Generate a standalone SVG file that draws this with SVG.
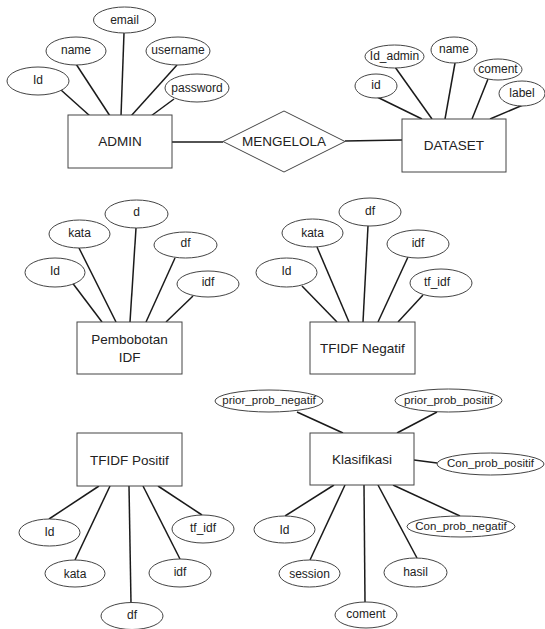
<svg xmlns="http://www.w3.org/2000/svg" width="545" height="629" viewBox="0 0 545 629">
<style>
.bg{fill:#fff}
.attr ellipse{fill:#fff;stroke:#444;stroke-width:1}
.ent rect{fill:#fff;stroke:#444;stroke-width:1}
.rel polygon{fill:#fff;stroke:#444;stroke-width:1}
text{font-family:"Liberation Sans",Arial,sans-serif;fill:#222;text-anchor:middle}
.a{font-size:12px}
.l{font-size:11.5px}
.e{font-size:13.5px}
#connectors line{stroke:#1a1a1a;stroke-width:1.5}
</style>
<rect class="bg" x="0" y="0" width="545" height="629"/>
<g id="connectors">
<!-- ADMIN -->
<line x1="61" y1="90" x2="90" y2="116"/>
<line x1="76" y1="64" x2="110" y2="116"/>
<line x1="124" y1="33" x2="121" y2="116"/>
<line x1="177" y1="65" x2="131" y2="116"/>
<line x1="174" y1="99" x2="151" y2="116"/>
<line x1="172" y1="142" x2="223" y2="142"/>
<line x1="345" y1="141" x2="402" y2="140"/>
<!-- DATASET -->
<line x1="375" y1="96" x2="422" y2="119"/>
<line x1="395" y1="67" x2="432" y2="119"/>
<line x1="455" y1="63" x2="445" y2="119"/>
<line x1="488" y1="79" x2="472" y2="119"/>
<line x1="523" y1="105" x2="490" y2="119"/>
<!-- Pembobotan IDF -->
<line x1="68" y1="277" x2="102" y2="322"/>
<line x1="79" y1="248" x2="116" y2="322"/>
<line x1="136" y1="228" x2="130" y2="322"/>
<line x1="175" y1="258" x2="146" y2="322"/>
<line x1="193" y1="296" x2="166" y2="322"/>
<!-- TFIDF Negatif -->
<line x1="302" y1="286" x2="337" y2="322"/>
<line x1="317" y1="247" x2="349" y2="322"/>
<line x1="368" y1="226" x2="363" y2="322"/>
<line x1="408" y1="257" x2="378" y2="322"/>
<line x1="423" y1="295" x2="398" y2="322"/>
<!-- TFIDF Positif -->
<line x1="49" y1="519" x2="99" y2="486"/>
<line x1="75" y1="560" x2="110" y2="486"/>
<line x1="131" y1="603" x2="129" y2="486"/>
<line x1="180" y1="559" x2="143" y2="486"/>
<line x1="202" y1="515" x2="158" y2="486"/>
<!-- Klasifikasi -->
<line x1="297" y1="412" x2="343" y2="433"/>
<line x1="437" y1="412" x2="397" y2="433"/>
<line x1="414" y1="460" x2="437" y2="463"/>
<line x1="285" y1="516" x2="334" y2="485"/>
<line x1="310" y1="560" x2="345" y2="485"/>
<line x1="365" y1="602" x2="364" y2="485"/>
<line x1="417" y1="558" x2="378" y2="485"/>
<line x1="460" y1="516" x2="393" y2="485"/>
</g>

<g id="admin" class="ent"><rect x="68" y="115" width="104" height="53"/><text class="e" x="120" y="141.5" dy=".35em">ADMIN</text></g>
<g id="admin-id" class="attr"><ellipse cx="38" cy="81" rx="31" ry="14"/><text class="a" x="38" y="80" dy=".35em">Id</text></g>
<g id="admin-name" class="attr"><ellipse cx="76" cy="51" rx="30" ry="14"/><text class="a" x="76" y="50" dy=".35em">name</text></g>
<g id="admin-email" class="attr"><ellipse cx="124.5" cy="20" rx="31" ry="13"/><text class="a" x="124.5" y="20" dy=".35em">email</text></g>
<g id="admin-username" class="attr"><ellipse cx="178" cy="51" rx="32" ry="14"/><text class="a" x="178" y="50" dy=".35em">username</text></g>
<g id="admin-password" class="attr"><ellipse cx="197" cy="88" rx="32" ry="14"/><text class="a" x="197" y="88" dy=".35em">password</text></g>

<g id="mengelola" class="rel"><polygon points="223,141.5 284,111 345,141.5 284,172"/><text class="e" x="284" y="141" dy=".35em">MENGELOLA</text></g>

<g id="dataset" class="ent"><rect x="402" y="119" width="104" height="53"/><text class="e" x="454" y="145.5" dy=".35em">DATASET</text></g>
<g id="dataset-id" class="attr"><ellipse cx="376" cy="86" rx="21" ry="12"/><text class="a" x="376" y="85" dy=".35em">id</text></g>
<g id="dataset-idadmin" class="attr"><ellipse cx="394.5" cy="56.5" rx="29.5" ry="11.5"/><text class="a" x="394.5" y="56" dy=".35em">Id_admin</text></g>
<g id="dataset-name" class="attr"><ellipse cx="454" cy="50" rx="23" ry="13"/><text class="a" x="454" y="49" dy=".35em">name</text></g>
<g id="dataset-coment" class="attr"><ellipse cx="498" cy="69.5" rx="24" ry="10.5"/><text class="a" x="498" y="69" dy=".35em">coment</text></g>
<g id="dataset-label" class="attr"><ellipse cx="522" cy="93.5" rx="23" ry="12.5"/><text class="a" x="522" y="93" dy=".35em">label</text></g>

<g id="pembobotan" class="ent"><rect x="77" y="322" width="105" height="52"/><text class="e" x="129.5" y="339" dy=".35em">Pembobotan</text><text class="e" x="129.5" y="357" dy=".35em">IDF</text></g>
<g id="pb-id" class="attr"><ellipse cx="55" cy="272.5" rx="30" ry="14.5"/><text class="a" x="55" y="271" dy=".35em">Id</text></g>
<g id="pb-kata" class="attr"><ellipse cx="79.5" cy="234" rx="30.5" ry="14"/><text class="a" x="79.5" y="233" dy=".35em">kata</text></g>
<g id="pb-d" class="attr"><ellipse cx="136.5" cy="214" rx="31.5" ry="14"/><text class="a" x="136.5" y="212" dy=".35em">d</text></g>
<g id="pb-df" class="attr"><ellipse cx="185.5" cy="245" rx="31.5" ry="13"/><text class="a" x="185.5" y="243" dy=".35em">df</text></g>
<g id="pb-idf" class="attr"><ellipse cx="208" cy="284" rx="31" ry="13"/><text class="a" x="208" y="282" dy=".35em">idf</text></g>

<g id="tfidf-negatif" class="ent"><rect x="310" y="322" width="105" height="52"/><text class="e" x="362.5" y="348" dy=".35em">TFIDF Negatif</text></g>
<g id="tn-id" class="attr"><ellipse cx="286.5" cy="272.5" rx="30.5" ry="14.5"/><text class="a" x="286.5" y="271" dy=".35em">Id</text></g>
<g id="tn-kata" class="attr"><ellipse cx="312.5" cy="233" rx="30.5" ry="14"/><text class="a" x="312.5" y="233" dy=".35em">kata</text></g>
<g id="tn-df" class="attr"><ellipse cx="370" cy="212" rx="31" ry="14"/><text class="a" x="370" y="211" dy=".35em">df</text></g>
<g id="tn-idf" class="attr"><ellipse cx="418" cy="244" rx="31" ry="14"/><text class="a" x="418" y="243" dy=".35em">idf</text></g>
<g id="tn-tfidf" class="attr"><ellipse cx="441" cy="283" rx="31" ry="14"/><text class="a" x="437" y="282" dy=".35em">tf_idf</text></g>

<g id="tfidf-positif" class="ent"><rect x="77" y="433" width="105" height="53"/><text class="e" x="129.5" y="460" dy=".35em">TFIDF Positif</text></g>
<g id="tp-id" class="attr"><ellipse cx="49.5" cy="532.5" rx="30.5" ry="13.5"/><text class="a" x="49.5" y="532" dy=".35em">Id</text></g>
<g id="tp-kata" class="attr"><ellipse cx="75" cy="573.5" rx="30" ry="13.5"/><text class="a" x="75" y="574" dy=".35em">kata</text></g>
<g id="tp-df" class="attr"><ellipse cx="132" cy="616" rx="31" ry="13.5"/><text class="a" x="132" y="615" dy=".35em">df</text></g>
<g id="tp-idf" class="attr"><ellipse cx="180" cy="573" rx="31" ry="14"/><text class="a" x="180" y="572" dy=".35em">idf</text></g>
<g id="tp-tfidf" class="attr"><ellipse cx="203" cy="529" rx="31" ry="14"/><text class="a" x="203" y="528" dy=".35em">tf_idf</text></g>

<g id="klasifikasi" class="ent"><rect x="310" y="433" width="104" height="52"/><text class="e" x="362" y="459" dy=".35em">Klasifikasi</text></g>
<g id="k-prior-neg" class="attr"><ellipse cx="269" cy="401" rx="54" ry="11"/><text class="l" x="269" y="400" dy=".35em">prior_prob_negatif</text></g>
<g id="k-prior-pos" class="attr"><ellipse cx="448.5" cy="400.5" rx="53.5" ry="11.5"/><text class="l" x="448.5" y="400" dy=".35em">prior_prob_positif</text></g>
<g id="k-con-pos" class="attr"><ellipse cx="490.5" cy="464" rx="53.5" ry="11"/><text class="l" x="490.5" y="463" dy=".35em">Con_prob_positif</text></g>
<g id="k-con-neg" class="attr"><ellipse cx="461" cy="526.5" rx="54" ry="10.5"/><text class="l" x="461" y="526" dy=".35em">Con_prob_negatif</text></g>
<g id="k-id" class="attr"><ellipse cx="284.5" cy="529.5" rx="30.5" ry="13.5"/><text class="a" x="284.5" y="530" dy=".35em">Id</text></g>
<g id="k-session" class="attr"><ellipse cx="309.5" cy="573.5" rx="30.5" ry="13.5"/><text class="a" x="309.5" y="574" dy=".35em">session</text></g>
<g id="k-coment" class="attr"><ellipse cx="366" cy="615" rx="31" ry="13"/><text class="a" x="366" y="614" dy=".35em">coment</text></g>
<g id="k-hasil" class="attr"><ellipse cx="415.5" cy="572.5" rx="31.5" ry="14.5"/><text class="a" x="415.5" y="572" dy=".35em">hasil</text></g>
</svg>
